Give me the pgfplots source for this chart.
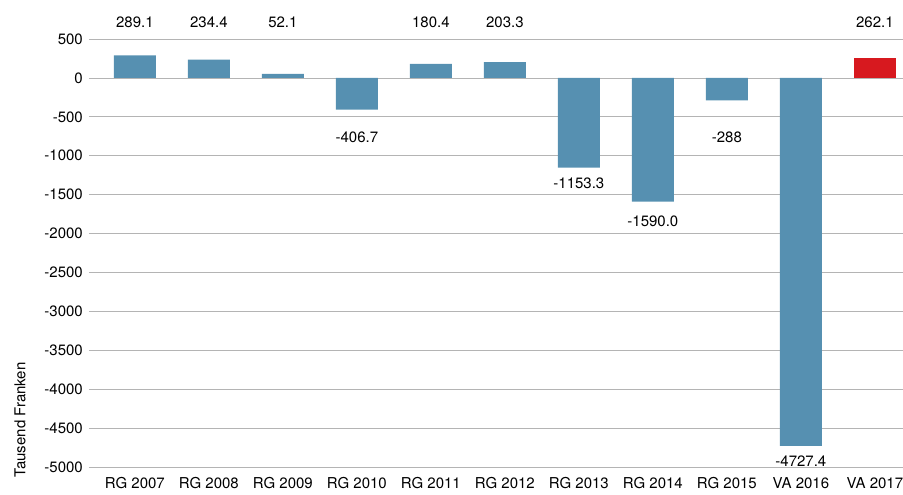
\documentclass[border=0pt]{standalone}
\usepackage{fontspec}
\setmainfont{TeX Gyre Heros}
\usepackage{pgfplots}
\pgfplotsset{compat=1.18}
\definecolor{barblue}{HTML}{5690B1}
\definecolor{barred}{HTML}{D7191F}
\definecolor{gridgray}{HTML}{B4B4B4}
\begin{document}
\fontsize{15}{17}\selectfont
\begin{tikzpicture}
\begin{axis}[
  at={(0,0)}, anchor=south west,
  scale only axis, width=814pt, height=428pt,
  xmin=-0.62, xmax=10.38, ymin=-5000, ymax=500,
  ytick={-5000,-4500,...,500},
  xtick={0,...,10},
  xticklabels={RG 2007,RG 2008,RG 2009,RG 2010,RG 2011,RG 2012,RG 2013,RG 2014,RG 2015,VA 2016,VA 2017},
  axis line style={draw=none},
  tick style={draw=none},
  ymajorgrids, grid style={gridgray, line width=0.8pt},
  scaled y ticks=false,
  /pgf/number format/assume math mode=true,
  /pgf/number format/1000 sep={},
  ticklabel style={font=\fontsize{15}{17}\selectfont},
  yticklabel style={xshift=-1pt},
  xticklabel style={yshift=-1pt},
  ylabel={Tausend Franken},
  ylabel style={at={(rel axis cs:-0.0848,0.11)}, anchor=center, font=\fontsize{15}{17}\selectfont},
  ybar, bar width=42pt, bar shift=0pt,
  clip=false,
]
\addplot[fill=barblue, draw=none] coordinates {
  (0,289.1) (1,234.4) (2,52.1) (3,-406.7) (4,180.4) (5,203.3)
  (6,-1153.3) (7,-1590.0) (8,-288) (9,-4727.4)
};
\addplot[fill=barred, draw=none] coordinates {(10,262.1)};
\node at (axis cs:0,720) {289.1};
\node at (axis cs:1,720) {234.4};
\node at (axis cs:2,720) {52.1};
\node at (axis cs:4,720) {180.4};
\node at (axis cs:5,720) {203.3};
\node at (axis cs:10,720) {262.1};
\node at (axis cs:3,-758) {-406.7};
\node at (axis cs:6,-1349) {-1153.3};
\node at (axis cs:7,-1838) {-1590.0};
\node at (axis cs:8,-758) {-288};
\node at (axis cs:9,-4922) {-4727.4};
\end{axis}
\pgfresetboundingbox
\useasboundingbox (-89pt,-28pt) rectangle (814pt,467pt);
\end{tikzpicture}
\end{document}
